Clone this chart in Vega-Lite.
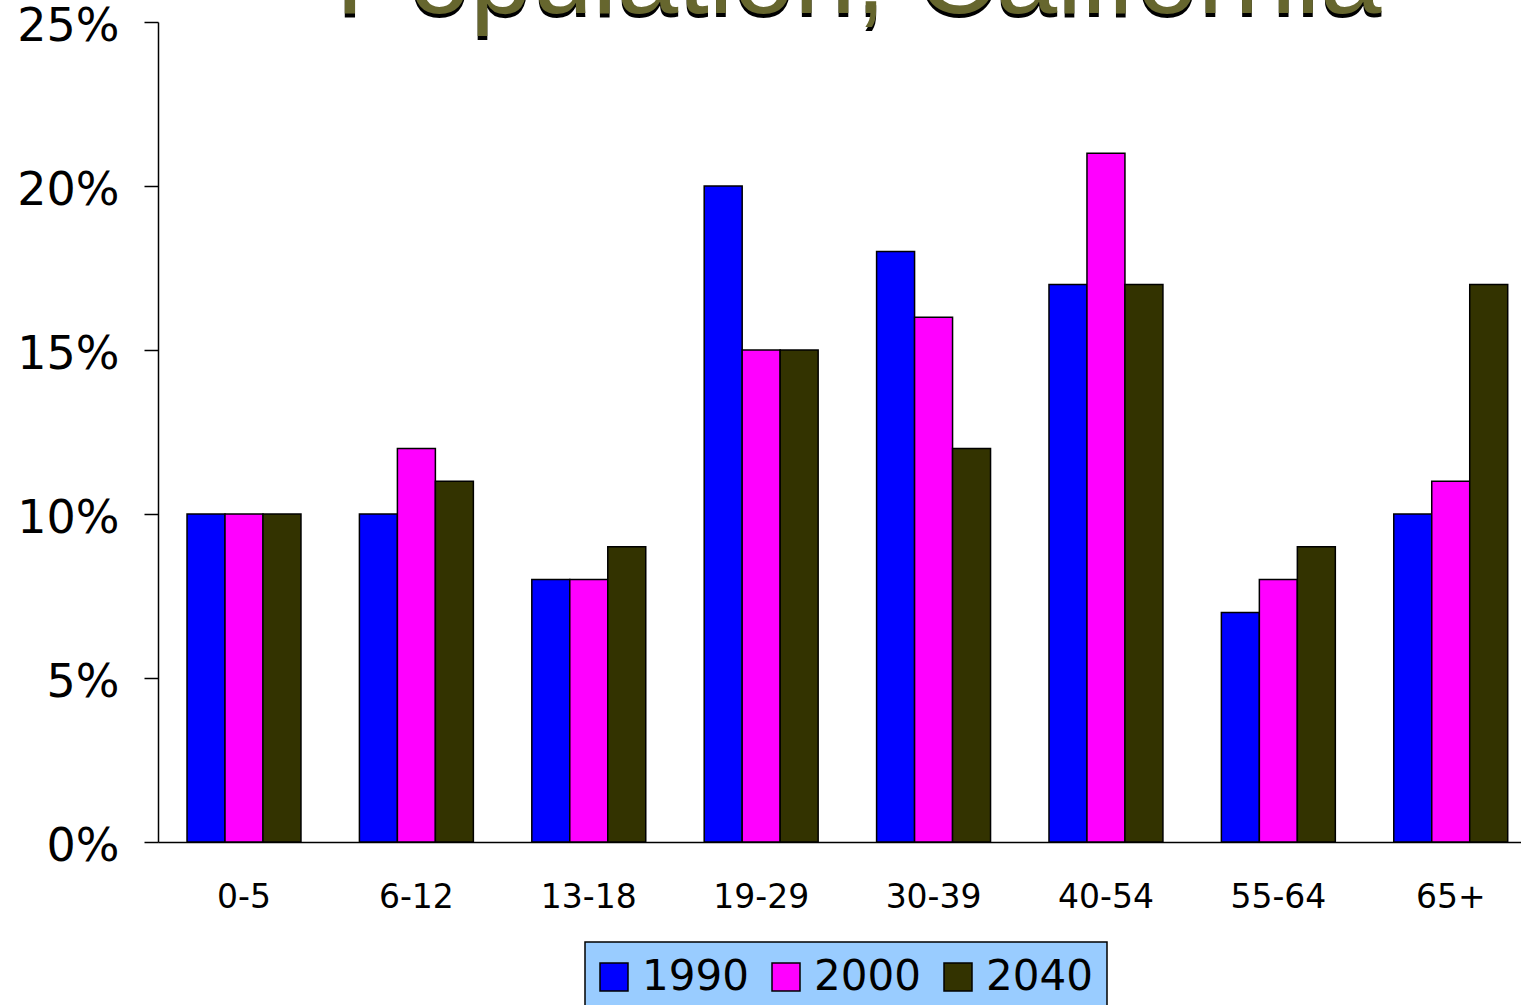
{
  "$schema": "https://vega.github.io/schema/vega-lite/v6.json",
  "width": 1363,
  "height": 820,
  "autosize": {"type": "none"},
  "padding": {"left": 158, "top": 22, "right": 0, "bottom": 163},
  "background": {"gradient": "linear", "x1": 0, "y1": 0, "x2": 0, "y2": 1, "stops": [{"offset": 0, "color": "#94c3f4"}, {"offset": 0.5, "color": "#7096bb"}, {"offset": 1, "color": "#495d78"}]},
  "title": {
    "text": "Population, California",
    "subtitle": "Population, California\u200a",
    "anchor": "middle",
    "frame": "group",
    "font": "Liberation Sans",
    "fontSize": 110,
    "fontWeight": "normal",
    "color": "#000000",
    "subtitleFont": "Liberation Sans",
    "subtitleFontSize": 110,
    "subtitleFontWeight": "normal",
    "subtitleColor": "#66662e",
    "subtitlePadding": -114,
    "offset": -41,
    "dx": 19
  },
  "data": {
    "values": [
      {"age": "0-5", "year": "1990", "pct": 10},
      {"age": "0-5", "year": "2000", "pct": 10},
      {"age": "0-5", "year": "2040", "pct": 10},
      {"age": "6-12", "year": "1990", "pct": 10},
      {"age": "6-12", "year": "2000", "pct": 12},
      {"age": "6-12", "year": "2040", "pct": 11},
      {"age": "13-18", "year": "1990", "pct": 8},
      {"age": "13-18", "year": "2000", "pct": 8},
      {"age": "13-18", "year": "2040", "pct": 9},
      {"age": "19-29", "year": "1990", "pct": 20},
      {"age": "19-29", "year": "2000", "pct": 15},
      {"age": "19-29", "year": "2040", "pct": 15},
      {"age": "30-39", "year": "1990", "pct": 18},
      {"age": "30-39", "year": "2000", "pct": 16},
      {"age": "30-39", "year": "2040", "pct": 12},
      {"age": "40-54", "year": "1990", "pct": 17},
      {"age": "40-54", "year": "2000", "pct": 21},
      {"age": "40-54", "year": "2040", "pct": 17},
      {"age": "55-64", "year": "1990", "pct": 7},
      {"age": "55-64", "year": "2000", "pct": 8},
      {"age": "55-64", "year": "2040", "pct": 9},
      {"age": "65+", "year": "1990", "pct": 10},
      {"age": "65+", "year": "2000", "pct": 11},
      {"age": "65+", "year": "2040", "pct": 17}
    ]
  },
  "mark": {"type": "bar", "stroke": "#000000", "strokeWidth": 1.5},
  "encoding": {
    "x": {
      "field": "age",
      "type": "nominal",
      "sort": ["0-5", "6-12", "13-18", "19-29", "30-39", "40-54", "55-64", "65+"],
      "scale": {"paddingInner": 0.339, "paddingOuter": 0.1227, "align": 0.686},
      "axis": {
        "title": null,
        "ticks": false,
        "tickSize": 0,
        "labelAngle": 0,
        "labelPadding": 39,
        "labelFont": "DejaVu Sans",
        "labelFontSize": 33,
        "labelColor": "#000000",
        "domainColor": "#000000",
        "domainWidth": 1.5
      }
    },
    "xOffset": {"field": "year", "type": "nominal", "sort": ["1990", "2000", "2040"]},
    "y": {
      "field": "pct",
      "type": "quantitative",
      "scale": {"domain": [0, 25], "nice": false},
      "axis": {
        "title": null,
        "grid": false,
        "values": [0, 5, 10, 15, 20, 25],
        "labelExpr": "datum.value + '%'",
        "labelFont": "DejaVu Sans",
        "labelFontSize": 46,
        "labelColor": "#000000",
        "labelPadding": 25,
        "labelOffset": 4,
        "tickSize": 14,
        "tickColor": "#000000",
        "tickWidth": 1.5,
        "domainColor": "#000000",
        "domainWidth": 1.5
      }
    },
    "color": {
      "field": "year",
      "type": "nominal",
      "scale": {"domain": ["1990", "2000", "2040"], "range": ["#0000ff", "#ff00ff", "#333300"]},
      "legend": {
        "orient": "none",
        "legendX": 427,
        "legendY": 920,
        "direction": "horizontal",
        "title": null,
        "fillColor": "#99ccff",
        "strokeColor": "#000000",
        "padding": 14,
        "symbolType": "square",
        "symbolSize": 784,
        "symbolStrokeColor": "#000000",
        "symbolStrokeWidth": 1.5,
        "symbolOpacity": 1,
        "symbolOffset": -6,
        "labelFont": "DejaVu Sans",
        "labelFontSize": 42,
        "labelColor": "#000000",
        "labelOffset": 7,
        "columnPadding": 20
      }
    }
  },
  "config": {
    "view": {"stroke": null},
    "legend": {"strokeWidth": 1.5}
  }
}
